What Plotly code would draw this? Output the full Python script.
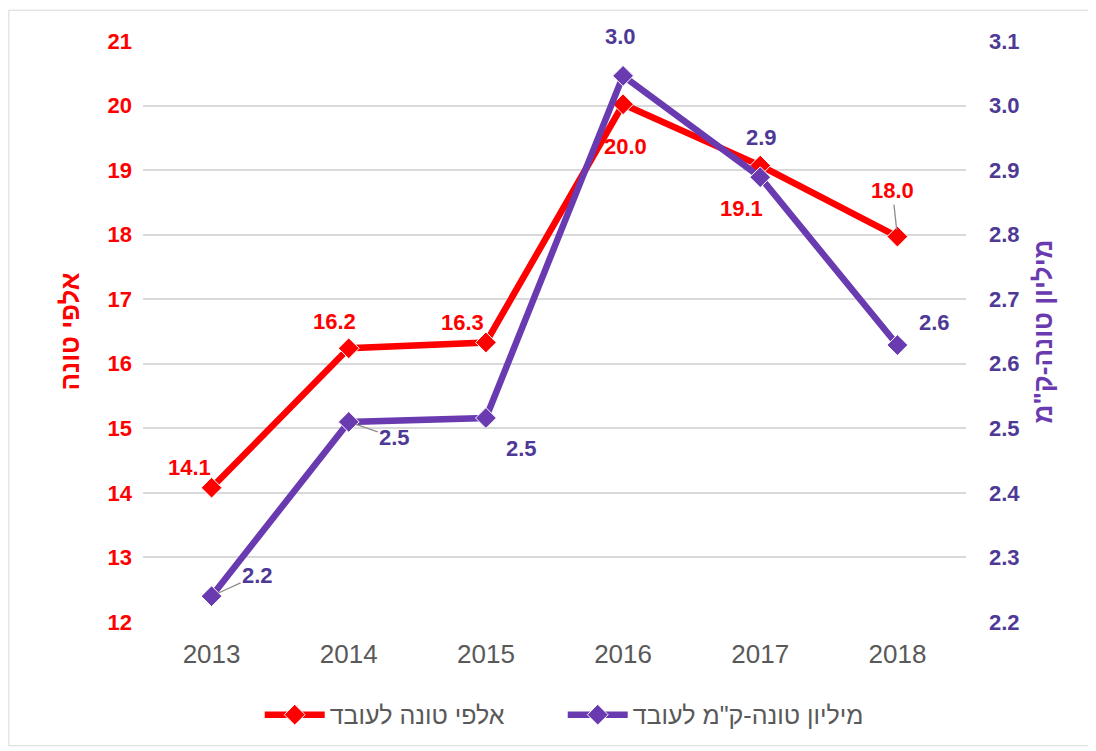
import plotly.graph_objects as go

years = ["2013", "2014", "2015", "2016", "2017", "2018"]
tons_k = [14.08, 16.24, 16.33, 20.02, 19.07, 17.97]
tonkm_m = [2.24, 2.51, 2.516, 3.046, 2.889, 2.629]
left_ticks = [12, 13, 14, 15, 16, 17, 18, 19, 20, 21]
right_ticks = [2.2, 2.3, 2.4, 2.5, 2.6, 2.7, 2.8, 2.9, 3.0, 3.1]
name_red = "אלפי טונה לעובד"
name_purple = "מיליון טונה-ק\"מ לעובד"
title_left = "אלפי טונה"
title_right = "מיליון טונה-ק\"מ"

RED = "#FF0000"
PURPLE = "#6A3BB0"
PURPLE_TXT = "#4E3A96"
GRAY = "#595959"
FONT = "Liberation Sans, DejaVu Sans, Arial, sans-serif"

fig = go.Figure()
fig.add_trace(go.Scatter(
    x=years, y=tons_k, name=name_red, mode="lines+markers",
    line=dict(color=RED, width=6.5),
    marker=dict(symbol="diamond", size=16, color=RED, line=dict(color="white", width=1)),
    yaxis="y"))
fig.add_trace(go.Scatter(
    x=years, y=tonkm_m, name=name_purple, mode="lines+markers",
    line=dict(color=PURPLE, width=6.5),
    marker=dict(symbol="diamond", size=16, color=PURPLE, line=dict(color="white", width=1)),
    yaxis="y2"))

# label offsets (pixels): (dx, dy, leader)
red_off = [(-22, 20, False), (-14, 27, False), (-23, 20, False),
           (2, -42, False), (-19, -43, False), (-5, 46, True)]
pur_off = [(46, 21, True), (46, -16, True), (36, -30, False),
           (-3, 39, False), (1, 40, False), (37, 23, False)]

annos = []
for i, (v, (dx, dy, lead)) in enumerate(zip(tons_k, red_off)):
    a = dict(x=i, y=v, xref="x", yref="y", text=f"{v:.1f}",
             font=dict(color=RED, size=22, family=FONT, weight="bold"))
    if lead:
        a.update(showarrow=True, ax=dx, ay=-dy, arrowhead=0, arrowwidth=1.3,
                 arrowcolor="#8C8C8C", standoff=7)
    else:
        a.update(showarrow=False, xshift=dx, yshift=dy)
    annos.append(a)
for i, (v, (dx, dy, lead)) in enumerate(zip(tonkm_m, pur_off)):
    a = dict(x=i, y=v, xref="x", yref="y2", text=f"{v:.1f}",
             font=dict(color=PURPLE_TXT, size=22, family=FONT, weight="bold"))
    if lead:
        a.update(showarrow=True, ax=dx, ay=-dy, arrowhead=0, arrowwidth=1.3,
                 arrowcolor="#8C8C8C", standoff=7)
    else:
        a.update(showarrow=False, xshift=dx, yshift=dy)
    annos.append(a)

fig.update_layout(
    width=1096, height=751,
    margin=dict(l=135, r=138, t=33, b=137),
    paper_bgcolor="white", plot_bgcolor="white",
    font=dict(family=FONT),
    showlegend=True,
    legend=dict(orientation="h", x=0.51, xanchor="center", y=-0.16, yanchor="middle",
                font=dict(size=25, color=GRAY, family=FONT), itemwidth=60,
                entrywidth=228, entrywidthmode="pixels",
                traceorder="normal"),
    xaxis=dict(type="category", range=[-0.5, 5.5], showgrid=False, zeroline=False,
               showline=False, ticks="", tickfont=dict(size=26, color=GRAY, family=FONT),
               ticklabelstandoff=14),
    yaxis=dict(range=[12, 21], tickvals=left_ticks, showgrid=True, gridcolor="#D9D9D9",
               gridwidth=1.5, zeroline=False, showline=False,
               tickfont=dict(size=22, color=RED, family=FONT, weight="bold"), ticklabelstandoff=10,
               title=dict(text=title_left, font=dict(size=26, color=RED, family=FONT, weight="bold"),
                          standoff=20)),
    yaxis2=dict(range=[2.2, 3.1], tickvals=right_ticks, tickformat=".1f", overlaying="y",
                side="right", showgrid=False, zeroline=False, showline=False,
                tickfont=dict(size=22, color=PURPLE_TXT, family=FONT, weight="bold"), ticklabelstandoff=22,
                title=dict(text=title_right, font=dict(size=26, color=PURPLE, family=FONT, weight="bold"),
                           standoff=14)),
    annotations=annos,
    shapes=[dict(type="rect", xref="paper", yref="paper", x0=-0.163, x1=1.151, y0=-0.213, y1=1.053,
                 line=dict(color="#D9D9D9", width=1), fillcolor="rgba(0,0,0,0)", layer="below")],
)

fig.write_html("out.html")
